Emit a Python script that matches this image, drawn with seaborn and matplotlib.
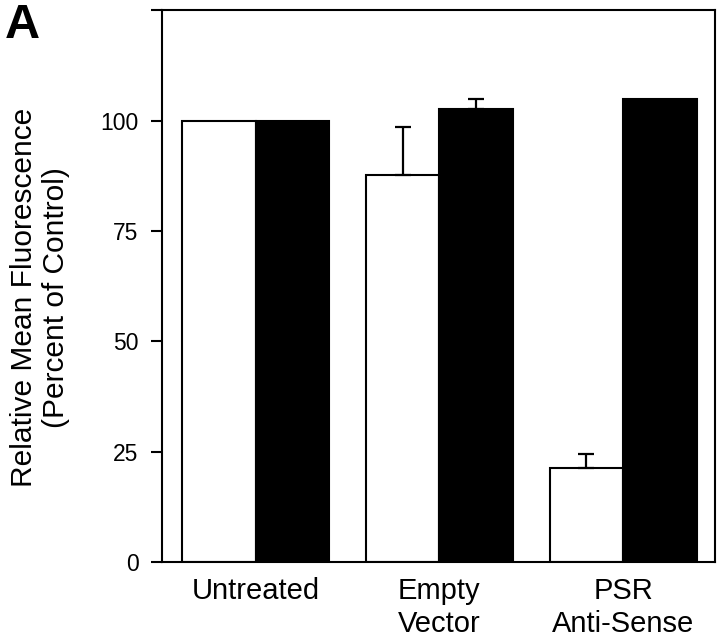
import numpy as np
import pandas as pd
import seaborn as sns
import matplotlib
matplotlib.use("Agg")
import matplotlib.pyplot as plt

# values
groups = ["Untreated", "Empty\nVector", "PSR\nAnti-Sense"]
series = ["open", "filled"]
open_vals = [100, 87.6, 21.3]
open_err = [0, 10.9, 3.1]
filled_vals = [100, 102.7, 105.0]
filled_err = [0, 2.3, 0]
ytick_vals = [0, 25, 50, 75, 100, 125]
ytick_labels = ["0", "25", "50", "75", "100", ""]

df = pd.DataFrame({
    "group": groups * 2,
    "series": ["open"] * 3 + ["filled"] * 3,
    "value": open_vals + filled_vals,
})
errs = {"open": open_err, "filled": filled_err}

sns.set_style("ticks", {"axes.edgecolor": "black", "text.color": "black",
                        "xtick.color": "black", "ytick.color": "black",
                        "axes.labelcolor": "black"})
plt.rcParams["font.family"] = ["Liberation Sans", "DejaVu Sans"]

fig, ax = plt.subplots(figsize=(7.2, 6.39), dpi=100)
fig.subplots_adjust(left=0.225, right=0.993, top=0.984, bottom=0.1205)

sns.barplot(data=df, x="group", y="value", hue="series", hue_order=series,
            palette=["white", "black"], edgecolor="black", linewidth=1.5,
            width=0.8, errorbar=None, legend=False, ax=ax)

# upper-only error bars
for cont, s in zip(ax.containers, series):
    for bar, e in zip(cont, errs[s]):
        if e <= 0:
            continue
        ax.errorbar(bar.get_x() + bar.get_width() / 2, bar.get_height(),
                    yerr=[[0], [e]], fmt="none", ecolor="black",
                    elinewidth=1.6, capsize=5.8, capthick=1.6, zorder=5)

ax.set_ylim(0, 125)
ax.set_xlim(-0.51, 2.5)
ax.set_yticks(ytick_vals)
ax.set_yticklabels(ytick_labels, fontsize=16.5)
ax.tick_params(axis="y", length=8, width=1.5, pad=9)
ax.tick_params(axis="x", length=0, pad=11, labelsize=21)
ax.set_xlabel("")
ax.set_ylabel("Relative Mean Fluorescence\n(Percent of Control)", fontsize=21.5)
ax.yaxis.set_label_coords(-0.166, 0.48)
for sp in ax.spines.values():
    sp.set_visible(True)
    sp.set_linewidth(1.5)
    sp.set_color("black")

fig.text(0.007, 0.9405, "A", fontsize=35, fontweight="bold", va="baseline")

fig.savefig("out.png", dpi=100)
